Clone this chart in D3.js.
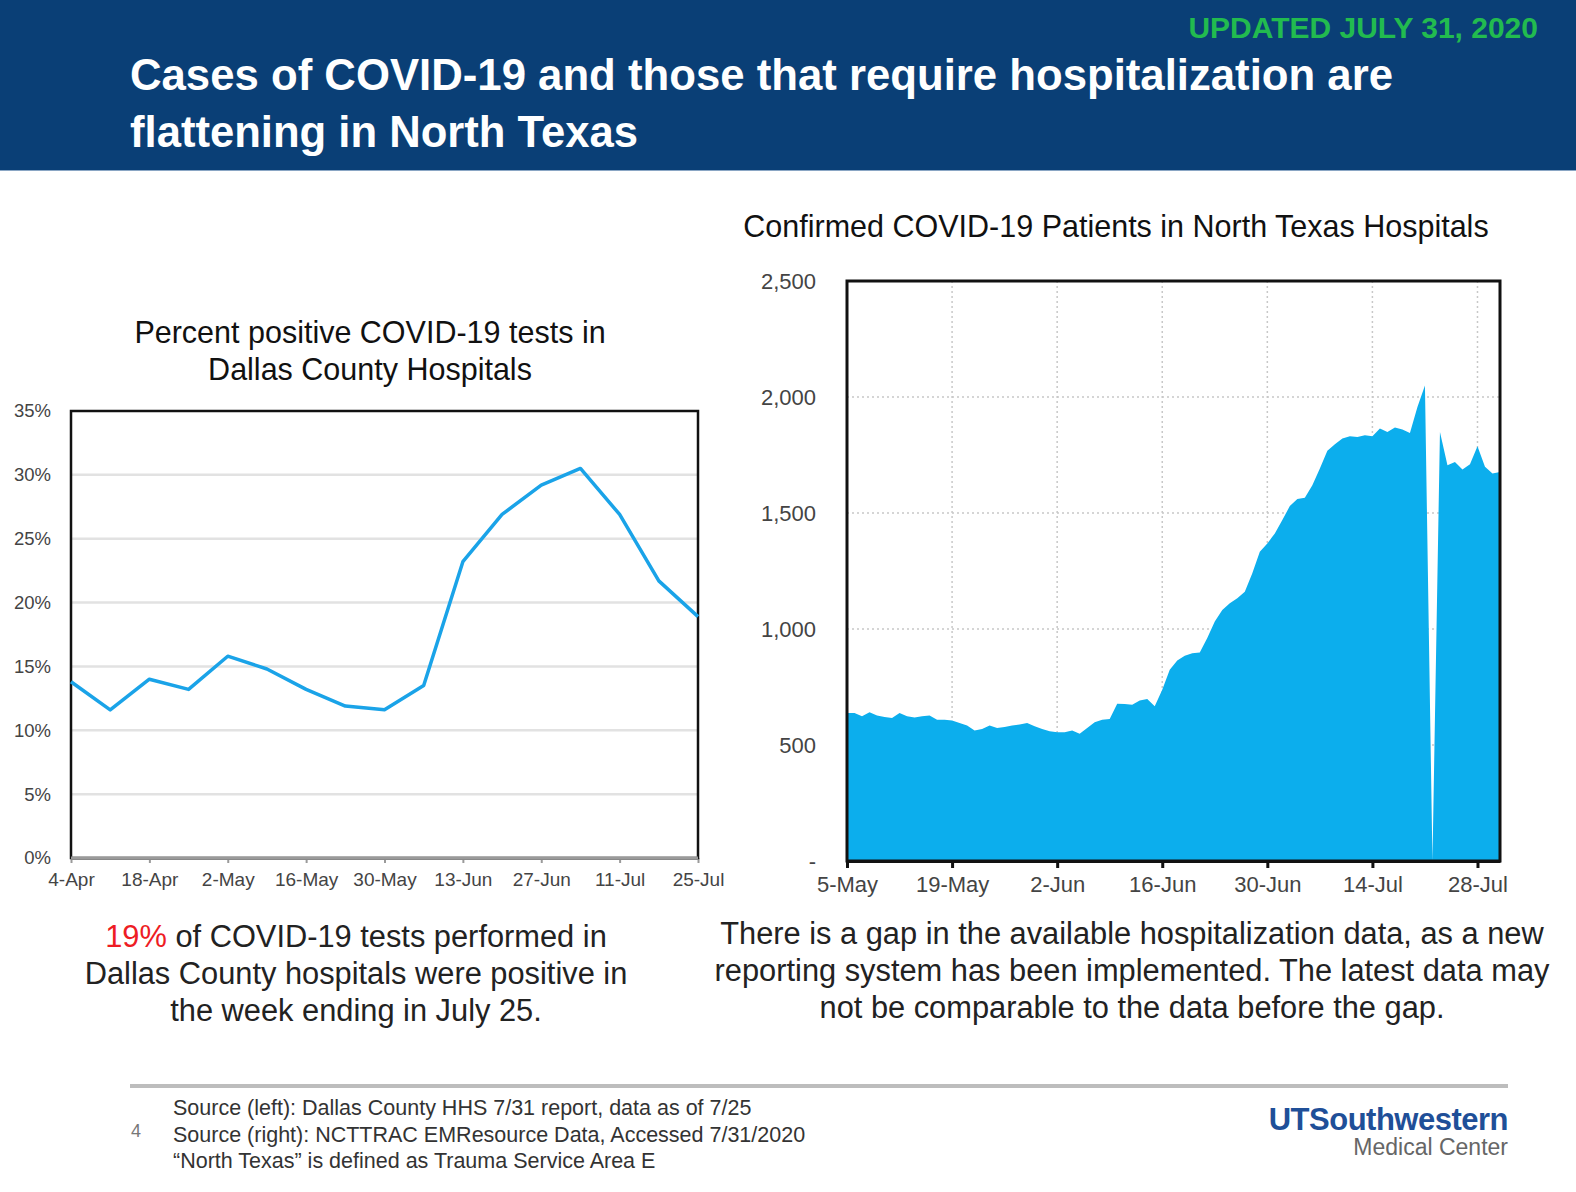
<!DOCTYPE html>
<html>
<head>
<meta charset="utf-8">
<script src="https://cdn.jsdelivr.net/npm/d3@7"></script>
<style>
  body { margin: 0; background: #fff; }
  svg { display: block; font-family: "Liberation Sans", Arial, sans-serif; }
  .tick text { fill: #444; }
</style>
</head>
<body>
<svg id="slide" width="1576" height="1192"></svg>
<script>
// left chart: weekly percent positive, Dallas County hospitals
const weekDates = ["2020-04-04", "2020-04-11", "2020-04-18", "2020-04-25", "2020-05-02",
  "2020-05-09", "2020-05-16", "2020-05-23", "2020-05-30", "2020-06-06", "2020-06-13",
  "2020-06-20", "2020-06-27", "2020-07-04", "2020-07-11", "2020-07-18", "2020-07-25"];
const pctPositive = [13.8, 11.6, 14.0, 13.2, 15.8, 14.8, 13.2, 11.9, 11.6, 13.5, 23.2,
  26.9, 29.2, 30.5, 26.9, 21.7, 18.9];
const leftTickDates = ["2020-04-04", "2020-04-18", "2020-05-02", "2020-05-16", "2020-05-30",
  "2020-06-13", "2020-06-27", "2020-07-11", "2020-07-25"];
const leftYTicks = [0, 5, 10, 15, 20, 25, 30, 35];

// right chart: daily confirmed patients, 5 May .. 31 Jul (0 = gap day)
const dayStart = "2020-05-05";
const patients = [638, 638, 624, 641, 627, 621, 616, 638, 624, 619, 624, 627, 609, 609,
  606, 595, 584, 563, 569, 584, 573, 578, 584, 588, 595, 581, 569, 559, 555, 555, 562,
  549, 573, 598, 609, 612, 678, 677, 674, 692, 698, 667, 738, 824, 864, 885, 896, 899,
  961, 1032, 1082, 1111, 1133, 1161, 1240, 1333, 1369, 1412, 1470, 1530, 1560, 1566,
  1620, 1692, 1768, 1796, 1821, 1831, 1828, 1835, 1831, 1864, 1849, 1868, 1860, 1845,
  1957, 2050, 0, 1849, 1706, 1720, 1687, 1710, 1788, 1699, 1670, 1677];
const rightTickDates = ["2020-05-05", "2020-05-19", "2020-06-02", "2020-06-16",
  "2020-06-30", "2020-07-14", "2020-07-28"];
const rightYTicks = [0, 500, 1000, 1500, 2000, 2500];

const parse = d3.timeParse("%Y-%m-%d");
const fmtDay = d3.timeFormat("%-d-%b");
const FONT = "Liberation Sans, Arial, sans-serif";

const svg = d3.select("#slide");

// ---- header band
svg.append("rect").attr("width", 1576).attr("height", 170).attr("fill", "#0a3f76");
svg.append("line").attr("x1", 0).attr("x2", 1576).attr("y1", 170.5).attr("y2", 170.5)
  .attr("stroke", "#8aa6c4").attr("stroke-width", 1);
svg.append("text").attr("x", 1538).attr("y", 38).attr("text-anchor", "end")
  .attr("font-size", 30).attr("font-weight", "bold").attr("fill", "#22bb4f")
  .text("UPDATED JULY 31, 2020");
[["Cases of COVID-19 and those that require hospitalization are", 90, 1263],
 ["flattening in North Texas", 147, 508]].forEach(([t, y, w]) => {
  svg.append("text").attr("x", 130).attr("y", y)
    .attr("font-size", 44).attr("font-weight", "bold").attr("fill", "#fff")
    .attr("textLength", w).attr("lengthAdjust", "spacingAndGlyphs")
    .text(t);
});

// ---- left chart
const L = { left: 71, right: 698, top: 411, bottom: 858 };
const dates = weekDates.map(parse);
const xL = d3.scaleTime().domain(d3.extent(dates)).range([L.left, L.right]);
const yL = d3.scaleLinear().domain([0, 35]).range([L.bottom, L.top]);

const left = svg.append("g");
["Percent positive COVID-19 tests in", "Dallas County Hospitals"].forEach((t, i) => {
  left.append("text").attr("x", 370).attr("y", 343 + i * 37).attr("text-anchor", "middle")
    .attr("font-size", 30.5).attr("fill", "#111").text(t);
});

left.append("g").selectAll("line").data(leftYTicks.filter(d => d > 0 && d < 35)).join("line")
  .attr("x1", L.left).attr("x2", L.right).attr("y1", d => yL(d)).attr("y2", d => yL(d))
  .attr("stroke", "#e2e2e2").attr("stroke-width", 2.5);

left.append("g").attr("transform", `translate(0,${L.bottom})`)
  .call(d3.axisBottom(xL).tickValues(leftTickDates.map(parse)).tickFormat(fmtDay)
    .tickSize(5).tickSizeOuter(0))
  .call(g => g.select(".domain").attr("stroke", "#9a9a9a").attr("stroke-width", 3))
  .call(g => g.selectAll(".tick line").attr("stroke", "#9a9a9a").attr("stroke-width", 2))
  .call(g => g.selectAll(".tick text").attr("font-size", 19).attr("dy", "1.05em")
    .attr("font-family", FONT));

left.append("g").attr("transform", `translate(${L.left - 17},0)`)
  .call(d3.axisLeft(yL).tickValues(leftYTicks).tickFormat(d => d + "%").tickSize(0))
  .call(g => g.select(".domain").remove())
  .call(g => g.selectAll(".tick text").attr("font-size", 18.5).attr("font-family", FONT));

left.append("rect").attr("x", L.left).attr("y", L.top)
  .attr("width", L.right - L.left).attr("height", L.bottom - L.top)
  .attr("fill", "none").attr("stroke", "#111").attr("stroke-width", 2.5);
left.append("line").attr("x1", L.left).attr("x2", L.right)
  .attr("y1", L.bottom).attr("y2", L.bottom).attr("stroke", "#9a9a9a").attr("stroke-width", 3);

left.append("path").datum(pctPositive)
  .attr("fill", "none").attr("stroke", "#1aa3e8").attr("stroke-width", 3.5)
  .attr("stroke-linejoin", "round")
  .attr("d", d3.line().x((d, i) => xL(dates[i])).y(d => yL(d)));

// ---- right chart
const R = { left: 847, right: 1500, top: 281, bottom: 861 };
const days = d3.timeDay.range(parse(dayStart), d3.timeDay.offset(parse(dayStart), patients.length));
const xR = d3.scaleTime().domain(d3.extent(days)).range([R.left, R.right]);
const yR = d3.scaleLinear().domain([0, 2500]).range([R.bottom, R.top]);

const right = svg.append("g");
right.append("text").attr("x", 1116).attr("y", 237).attr("text-anchor", "middle")
  .attr("font-size", 30.5).attr("fill", "#111")
  .text("Confirmed COVID-19 Patients in North Texas Hospitals");

right.append("g").selectAll("line").data(rightYTicks.filter(d => d > 0 && d < 2500)).join("line")
  .attr("x1", R.left).attr("x2", R.right).attr("y1", d => yR(d)).attr("y2", d => yR(d))
  .attr("stroke", "#c8c8c8").attr("stroke-width", 1.5).attr("stroke-dasharray", "2,3");
right.append("g").selectAll("line").data(rightTickDates.slice(1).map(parse)).join("line")
  .attr("x1", d => xR(d)).attr("x2", d => xR(d)).attr("y1", R.top).attr("y2", R.bottom)
  .attr("stroke", "#c8c8c8").attr("stroke-width", 1.5).attr("stroke-dasharray", "2,3");

right.append("path").datum(patients)
  .attr("fill", "#0caeed")
  .attr("d", d3.area().x((d, i) => xR(days[i])).y0(R.bottom).y1(d => yR(d)));

right.append("rect").attr("x", R.left).attr("y", R.top)
  .attr("width", R.right - R.left).attr("height", R.bottom - R.top)
  .attr("fill", "none").attr("stroke", "#111").attr("stroke-width", 3);

right.append("g").attr("transform", `translate(0,${R.bottom})`)
  .call(d3.axisBottom(xR).tickValues(rightTickDates.map(parse)).tickFormat(fmtDay)
    .tickSize(7).tickSizeOuter(0))
  .call(g => g.select(".domain").attr("stroke", "#111").attr("stroke-width", 3))
  .call(g => g.selectAll(".tick line").attr("stroke", "#111").attr("stroke-width", 3))
  .call(g => g.selectAll(".tick text").attr("font-size", 22).attr("dy", "0.95em")
    .attr("font-family", FONT));

right.append("g").attr("transform", `translate(${R.left - 28},0)`)
  .call(d3.axisLeft(yR).tickValues(rightYTicks)
    .tickFormat(d => d === 0 ? "-" : d3.format(",")(d)).tickSize(0))
  .call(g => g.select(".domain").remove())
  .call(g => g.selectAll(".tick text").attr("font-size", 22).attr("font-family", FONT));

// ---- captions
const capL = svg.append("text").attr("text-anchor", "middle").attr("font-size", 30.8).attr("fill", "#222");
const l1 = capL.append("tspan").attr("x", 356).attr("y", 947);
l1.append("tspan").attr("fill", "#ee1c24").text("19%");
l1.append("tspan").text(" of COVID-19 tests performed in");
capL.append("tspan").attr("x", 356).attr("y", 984).text("Dallas County hospitals were positive in");
capL.append("tspan").attr("x", 356).attr("y", 1021).text("the week ending in July 25.");

const capR = svg.append("text").attr("text-anchor", "middle").attr("font-size", 30.8).attr("fill", "#222");
["There is a gap in the available hospitalization data, as a new",
 "reporting system has been implemented. The latest data may",
 "not be comparable to the data before the gap."].forEach((t, i) => {
  capR.append("tspan").attr("x", 1132).attr("y", 944 + i * 37).text(t);
});

// ---- footer
svg.append("line").attr("x1", 130).attr("x2", 1508).attr("y1", 1086).attr("y2", 1086)
  .attr("stroke", "#bdbdbd").attr("stroke-width", 4);
svg.append("text").attr("x", 131).attr("y", 1137).attr("font-size", 18).attr("fill", "#777").text("4");
["Source (left): Dallas County HHS 7/31 report, data as of 7/25",
 "Source (right): NCTTRAC EMResource Data, Accessed 7/31/2020",
 "\u201CNorth Texas\u201D is defined as Trauma Service Area E"].forEach((t, i) => {
  svg.append("text").attr("x", 173).attr("y", 1115 + i * 26.5)
    .attr("font-size", 21.5).attr("fill", "#333").text(t);
});
svg.append("text").attr("x", 1508).attr("y", 1130).attr("text-anchor", "end")
  .attr("font-size", 31).attr("font-weight", "bold").attr("fill", "#1f4f98")
  .attr("letter-spacing", -0.5).text("UTSouthwestern");
svg.append("text").attr("x", 1508).attr("y", 1155).attr("text-anchor", "end")
  .attr("font-size", 23).attr("fill", "#666").text("Medical Center");
</script>
</body>
</html>
